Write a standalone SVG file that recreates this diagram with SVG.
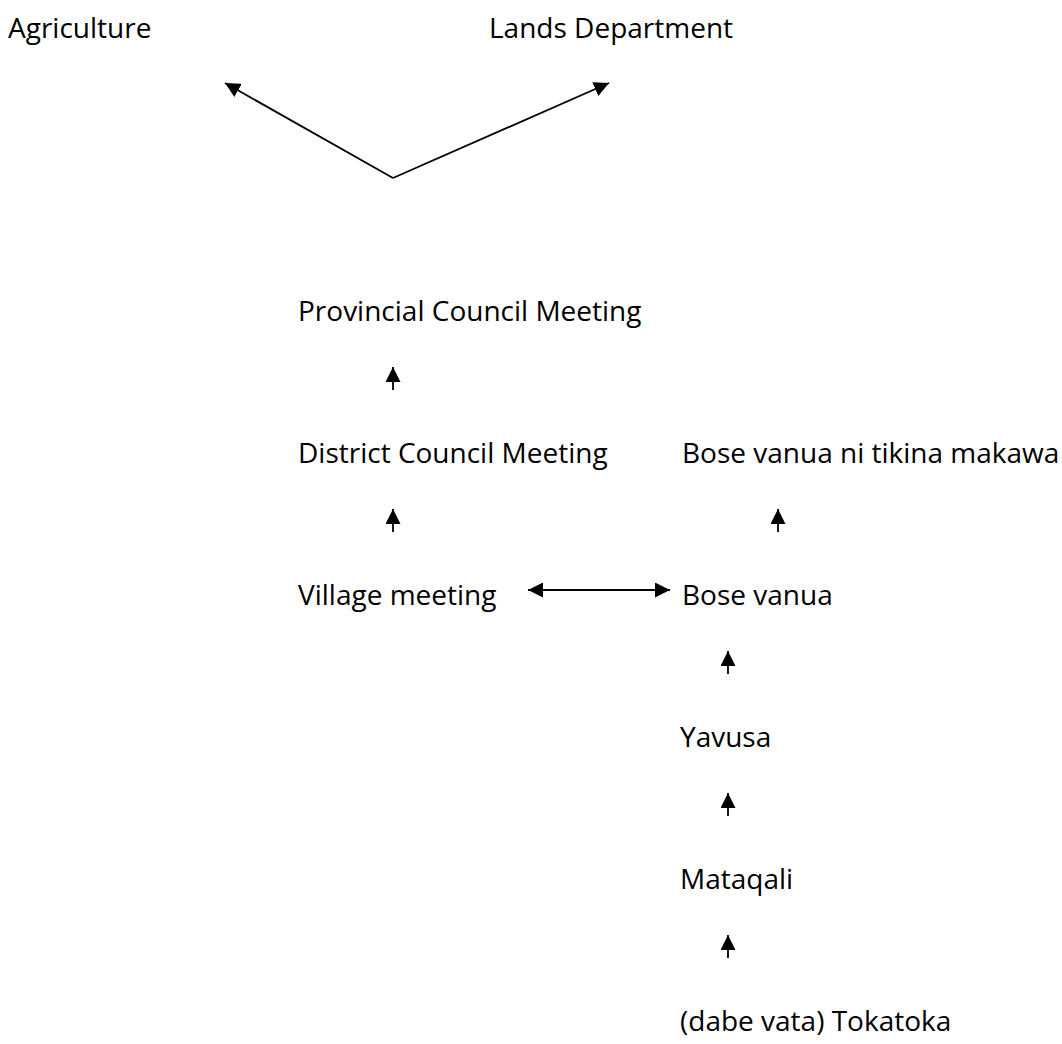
<svg xmlns="http://www.w3.org/2000/svg" width="1062" height="1044" viewBox="0 0 1062 1044">
<style>
text { font-family: "Open Sans", "Liberation Sans", sans-serif; font-size: 28px; fill: #000; }
.c { stroke: #000; stroke-width: 1.8; fill: none; }
</style>
<defs>
<marker id="ah" markerUnits="userSpaceOnUse" markerWidth="15" markerHeight="15" refX="15" refY="7.5" orient="auto-start-reverse">
<path d="M0,0 L15,7.5 L0,15 z" fill="#000"/>
</marker>
</defs>
<rect width="1062" height="1044" fill="#fff"/>
<g id="agriculture"><text x="8" y="38">Agriculture</text></g>
<g id="lands"><text x="489" y="38">Lands Department</text></g>
<g id="provincial"><text x="298" y="321">Provincial Council Meeting</text></g>
<g id="district"><text x="298" y="463">District Council Meeting</text></g>
<g id="bosetikina"><text x="682" y="463">Bose vanua ni tikina makawa</text></g>
<g id="village"><text x="298" y="605">Village meeting</text></g>
<g id="bosevanua"><text x="682" y="605">Bose vanua</text></g>
<g id="yavusa"><text x="680" y="747">Yavusa</text></g>
<g id="mataqali"><text x="680" y="889">Mataqali</text></g>
<g id="tokatoka"><text x="680" y="1031">(dabe vata) Tokatoka</text></g>
<g id="connectors">
<path class="c" d="M393,178 L225,83" marker-end="url(#ah)"/>
<path class="c" d="M393,178 L609,83" marker-end="url(#ah)"/>
<path class="c" d="M393,390 L393,367" marker-end="url(#ah)"/>
<path class="c" d="M393,532 L393,509" marker-end="url(#ah)"/>
<path class="c" d="M778,532 L778,509" marker-end="url(#ah)"/>
<path class="c" d="M528,590 L670,590" marker-start="url(#ah)" marker-end="url(#ah)"/>
<path class="c" d="M728,674 L728,651" marker-end="url(#ah)"/>
<path class="c" d="M728,816 L728,793" marker-end="url(#ah)"/>
<path class="c" d="M728,958 L728,935" marker-end="url(#ah)"/>
</g>
</svg>
